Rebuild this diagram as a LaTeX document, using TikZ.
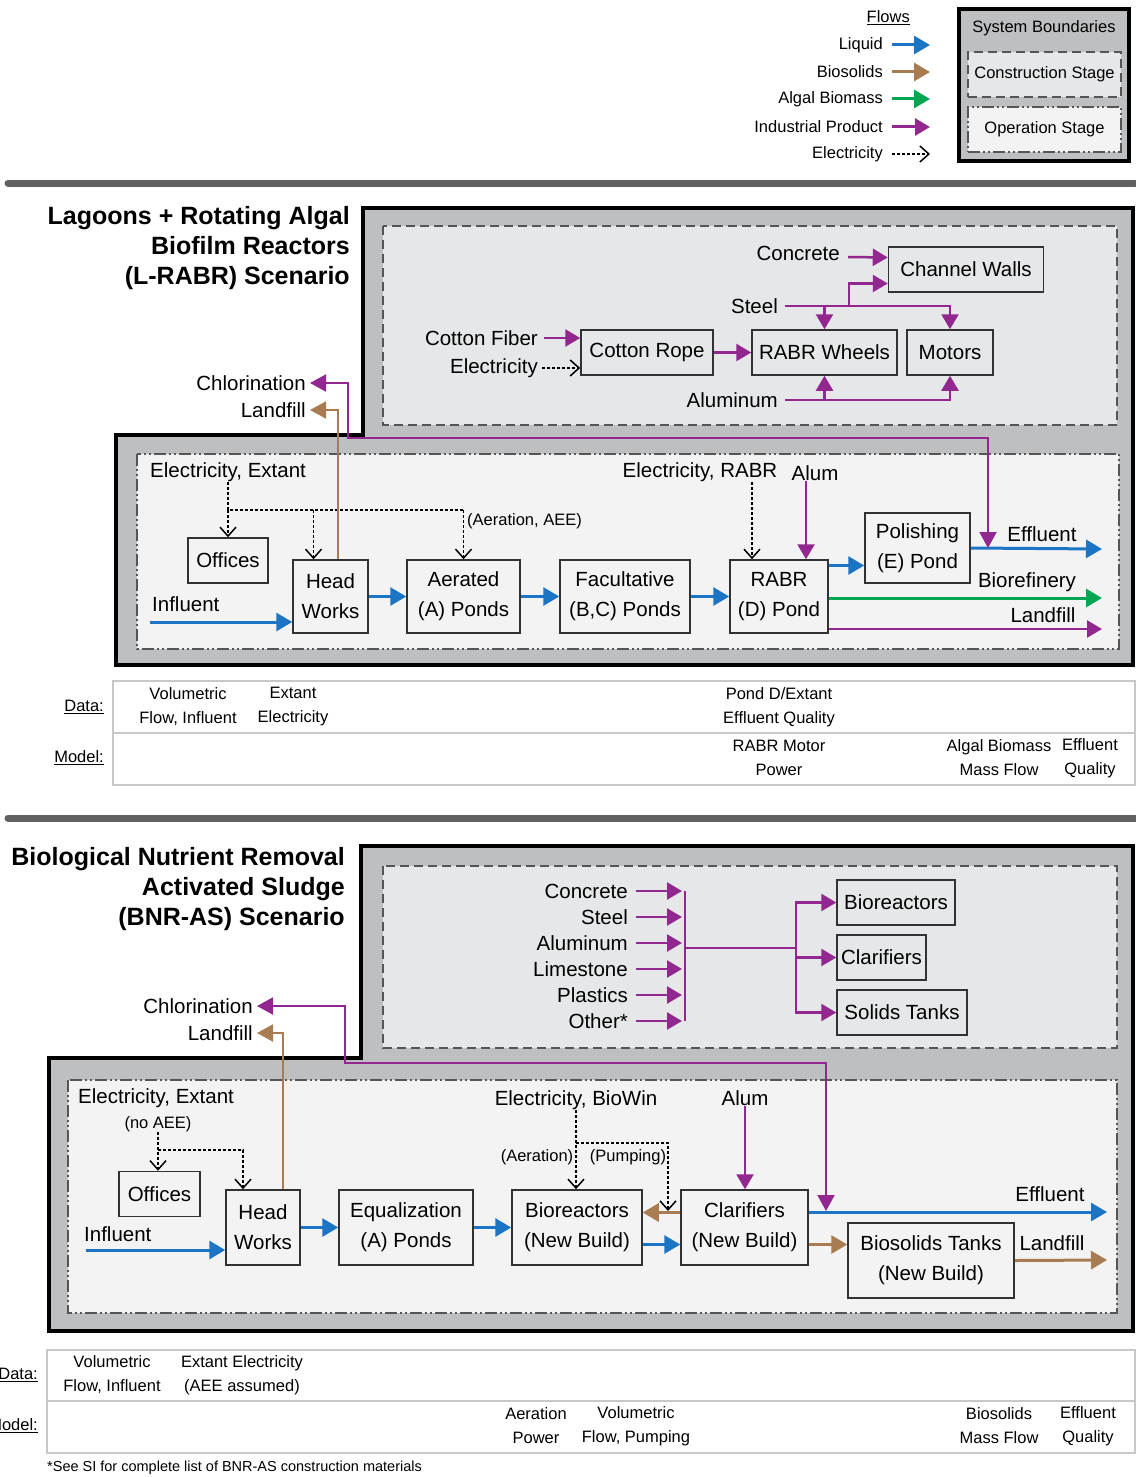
\documentclass[tikz,border=0pt]{standalone}
\usepackage{fontspec}
\setmainfont{Liberation Sans}
\usetikzlibrary{arrows.meta}
\definecolor{liquid}{RGB}{28,117,196}
\definecolor{biosol}{RGB}{168,124,80}
\definecolor{algal}{RGB}{0,166,81}
\definecolor{indprod}{RGB}{146,39,143}
\definecolor{bndfill}{RGB}{190,191,193}
\definecolor{confill}{RGB}{230,231,232}
\definecolor{opfill}{RGB}{243,243,243}
\definecolor{bnddash}{RGB}{85,85,85}
\definecolor{boxline}{RGB}{50,50,50}
\definecolor{tblline}{RGB}{200,200,200}
\newcommand\mainfs{\fontsize{20.5}{30}\selectfont}
\newcommand\smallfs{\fontsize{16.5}{24}\selectfont}
\newcommand\notefs{\fontsize{14.5}{18}\selectfont}
\newcommand\titlefs{\fontsize{25}{30}\bfseries\selectfont}
\tikzset{
  txt/.style={inner sep=0pt,font=\mainfs,align=center},
  smalltxt/.style={inner sep=0pt,font=\smallfs,align=center},
  scentitle/.style={inner sep=0pt,font=\titlefs,align=right,anchor=east},
  procbox/.style={draw=boxline,line width=1.5pt,minimum height=45pt,inner sep=2pt,align=center,font=\mainfs},
  liq/.style={draw=liquid,line width=3pt,-{Triangle[length=16pt,width=18pt]}},
  bios/.style={draw=biosol,line width=3pt,-{Triangle[length=16pt,width=18pt]}},
  alg/.style={draw=algal,line width=3pt,-{Triangle[length=16pt,width=18pt]}},
  ind/.style={draw=indprod,line width=2.5pt,-{Triangle[length=15pt,width=17pt]}},
  indl/.style={draw=indprod,line width=2.5pt},
  chlor/.style={draw=indprod,line width=2pt,{Triangle[length=16pt,width=17pt]}-{Triangle[length=16pt,width=17pt]}},
  biosl/.style={draw=biosol,line width=2pt,-{Triangle[length=16pt,width=17pt]}},
  elec/.style={draw=black,line width=1.5pt,dash pattern=on 3pt off 2pt,-{Straight Barb[length=9pt,width=16pt]}},
  scen/.style={draw=black,line width=4pt,fill=bndfill},
  constage/.style={draw=bnddash,line width=2pt,fill=confill,dash pattern=on 9pt off 5pt},
  opstage/.style={draw=bnddash,line width=2pt,fill=opfill,dash pattern=on 12pt off 3pt on 2pt off 3pt on 2pt off 3pt},
  tbl/.style={draw=tblline,line width=2.5pt},
  divider/.style={draw=black!62,line width=7pt,line cap=round}
}
\begin{document}
\begin{tikzpicture}[x=1pt,y=-1pt]
\useasboundingbox (0,0) rectangle (1135,1477);

\node[smalltxt,anchor=east] (lgflows) at (910,18) {\underline{Flows}};
\node[smalltxt,anchor=east] (lgliq) at (883,45) {Liquid};
\node[smalltxt,anchor=east] (lgbio) at (883,72) {Biosolids};
\node[smalltxt,anchor=east] (lgalg) at (883,99) {Algal Biomass};
\node[smalltxt,anchor=east] (lgind) at (883,127) {Industrial Product};
\node[smalltxt,anchor=east] (lgele) at (883,154) {Electricity};
\draw[liq] ([xshift=9pt]lgliq.east) -- +(38,0);
\draw[bios] ([xshift=9pt]lgbio.east) -- +(38,0);
\draw[alg] ([xshift=9pt]lgalg.east) -- +(38,0);
\draw[ind,line width=3pt] ([xshift=9pt]lgind.east) -- +(38,0);
\draw[elec] ([xshift=9pt]lgele.east) -- +(38,0);
\draw[scen] (959,9) rectangle (1129,161);
\node[smalltxt] (lgsys) at (1044,28) {System Boundaries};
\node[constage,smalltxt,minimum width=153pt,minimum height=45pt] (lgcon) at (1044.5,74.5) {Construction Stage};
\node[opstage,smalltxt,minimum width=153pt,minimum height=45pt] (lgop) at (1044.5,129.5) {Operation Stage};

\draw[divider] (8,183) -- (1135,183);

\node[scentitle] (lrtitle) at (350,248) {Lagoons + Rotating Algal\\Biofilm Reactors\\(L-RABR) Scenario};
\draw[scen] (363,208) -- (1133,208) -- (1133,665) -- (116,665) -- (116,435) -- (363,435) -- cycle;
\draw[constage] (383,226) rectangle (1117,425);
\draw[opstage] (137,454) rectangle (1119,649);

\node[procbox,minimum width=155pt] (chwall) at (966,269.5) {Channel Walls};
\node[procbox,minimum width=132pt] (rope) at (647,352.5) {Cotton Rope};
\node[procbox,minimum width=145pt] (wheel) at (824.5,352.5) {RABR Wheels};
\node[procbox,minimum width=86pt] (motor) at (950,352.5) {Motors};
\node[txt,anchor=east] (lcon) at (840,253) {Concrete};
\node[txt,anchor=east] (lsteel) at (778,306) {Steel};
\node[txt,anchor=east] (lfiber) at (538,338) {Cotton Fiber};
\node[txt,anchor=east] (lelec) at (538,368) {Electricity};
\node[txt,anchor=east] (lalum) at (778,400) {Aluminum};
\coordinate (stsplit) at (849,306);
\draw[ind] (lcon.east) ++(8,4) -- ([yshift=12pt]chwall.west);
\draw[ind] ([xshift=7pt]lsteel.east) -| (motor.north);
\draw[ind] (wheel.north |- lsteel.east) -- (wheel.north);
\draw[ind] (stsplit) |- ([yshift=-14pt]chwall.west);
\draw[ind] ([xshift=7pt]lalum.east) -| (motor.south);
\draw[ind] (wheel.south |- lalum.east) -- (wheel.south);
\draw[ind] ([xshift=6pt]lfiber.east) -- (rope.west |- lfiber.east);
\draw[elec] ([xshift=4pt]lelec.east) -- (rope.west |- lelec.east);
\draw[ind] (rope) -- (wheel);

\node[procbox,minimum width=80pt] (loff) at (228,560.5) {Offices};
\node[procbox,minimum width=75pt,minimum height=73pt] (lhead) at (330.5,596.5) {Head\\Works};
\node[procbox,minimum width=113pt,minimum height=73pt] (laer) at (463.5,596.5) {Aerated\\(A) Ponds};
\node[procbox,minimum width=130pt,minimum height=73pt] (lfac) at (625,596.5) {Facultative\\(B,C) Ponds};
\node[procbox,minimum width=98pt,minimum height=73pt] (lrabr) at (779,596.5) {RABR\\(D) Pond};
\node[procbox,minimum width=105pt,minimum height=70pt] (lpol) at (917.5,548) {Polishing\\(E) Pond};
\node[txt,anchor=west] (lelext) at (150,472) {Electricity, Extant};
\node[txt] (lelrabr) at (700,472) {Electricity, RABR};
\node[txt] (lalumop) at (815,473) {Alum};
\node[txt,anchor=west] (linf) at (152,604) {Influent};
\node[txt,anchor=east] (lchl) at (306,383) {Chlorination};
\node[txt,anchor=east] (llandf) at (306,410) {Landfill};
\node[txt] (leff) at (1042,534) {Effluent};
\node[txt] (lbioref) at (1027,582) {Biorefinery};
\node[txt] (llandf2) at (1043,615) {Landfill};
\node[smalltxt,anchor=west] (laeraee) at (467,521) {(Aeration, AEE)};
\coordinate (lej) at (228,510);
\draw[elec,-] (lej |- lelext.south) -- (lej) -- (laer.north |- lej);
\draw[elec] (lej) -- (loff.north);
\draw[elec] ([xshift=-17pt]lhead.north |- lej) -- ([xshift=-17pt]lhead.north);
\draw[elec] (laer.north |- lej) -- (laer.north);
\draw[elec] ([xshift=-27pt]lrabr.north |- lelrabr.south) -- ([xshift=-27pt]lrabr.north);
\draw[ind] ([xshift=27pt]lrabr.north |- lalumop.south) -- ([xshift=27pt]lrabr.north);
\coordinate (linfs) at (150,622);
\coordinate (leffend) at (1102,549);
\coordinate (lbrend) at (1102,598);
\coordinate (llfend) at (1102,629);
\draw[liq] (linfs) -- (lhead.west |- linfs);
\draw[liq] (lhead) -- (laer);
\draw[liq] (laer) -- (lfac);
\draw[liq] (lfac) -- (lrabr);
\draw[liq] ([yshift=31pt]lrabr.east) -- ([yshift=31pt]lrabr.east -| lpol.west);
\draw[liq] (lpol.east) -- (leffend);
\draw[alg] (lrabr.east |- lbrend) -- (lbrend);
\draw[ind] (lrabr.east |- llfend) -- (llfend);
\draw[biosl] ([xshift=7pt]lhead.north) |- ([xshift=4pt]llandf.east);
\coordinate (lchlk) at (348,438);
\coordinate (lchlin) at (988,548);
\draw[chlor] ([xshift=4pt]lchl.east) -| (lchlk) -| (lchlin);

\draw[tbl,fill=white] (113,681) rectangle (1135,785);
\draw[tbl] (113,733) -- (1135,733);
\node[smalltxt,anchor=east] (ldata) at (104,707) {\underline{Data:}};
\node[smalltxt,anchor=east] (lmodel) at (104,758) {\underline{Model:}};
\node[smalltxt] (ld1) at (188,707) {Volumetric\\Flow, Influent};
\node[smalltxt] (ld2) at (293,707) {Extant\\Electricity};
\node[smalltxt] (ld3) at (779,707) {Pond D/Extant\\Effluent Quality};
\node[smalltxt] (lm1) at (779,758) {RABR Motor\\Power};
\node[smalltxt] (lm2) at (999,758) {Algal Biomass\\Mass Flow};
\node[smalltxt] (lm3) at (1090,758) {Effluent\\Quality};

\draw[divider] (8,818) -- (1135,818);

\node[scentitle] (bntitle) at (345,889) {Biological Nutrient Removal\\Activated Sludge\\(BNR-AS) Scenario};
\draw[scen] (361,846) -- (1133,846) -- (1133,1331) -- (49,1331) -- (49,1058) -- (361,1058) -- cycle;
\draw[constage] (383,866) rectangle (1117,1048);
\draw[opstage] (68,1080) rectangle (1117,1313);

\foreach \y/\m [count=\i] in {891/Concrete,917/Steel,943/Aluminum,969/Limestone,995/Plastics,1021/Other*}{
  \node[txt,anchor=east] (bmat\i) at (628,\y) {\m};
  \draw[ind] ([xshift=8pt]bmat\i.east) -- +(46,0);
}
\node[procbox,minimum width=118pt] (bbio) at (896,902.5) {Bioreactors};
\node[procbox,minimum width=89pt] (bclar) at (881.5,957.5) {Clarifiers};
\node[procbox,minimum width=130pt] (bsol) at (902,1012.5) {Solids Tanks};
\coordinate (bjn) at (685,948);
\coordinate (bspl) at (796,948);
\draw[indl] (bmat1 -| bjn) -- (bmat6 -| bjn);
\draw[indl] (bjn) -- (bspl);
\draw[ind] (bspl) |- (bbio.west);
\draw[ind] (bspl) -- (bspl |- bclar.west) -- (bclar.west);
\draw[ind] (bspl) |- (bsol.west);

\node[txt,anchor=west] (belext) at (78,1098) {Electricity, Extant};
\node[smalltxt] (bnoaee) at (158,1124) {(no AEE)};
\node[procbox,minimum width=81pt] (boff) at (159.5,1194) {Offices};
\node[procbox,minimum width=74pt,minimum height=75pt] (bhead) at (263,1227.5) {Head\\Works};
\node[procbox,minimum width=134pt,minimum height=75pt] (beq) at (406,1227.5) {Equalization\\(A) Ponds};
\node[procbox,minimum width=130pt,minimum height=75pt] (bbior) at (577,1227.5) {Bioreactors\\(New Build)};
\node[procbox,minimum width=127pt,minimum height=75pt] (bclr) at (744.5,1227.5) {Clarifiers\\(New Build)};
\node[procbox,minimum width=166pt,minimum height=75pt] (bbst) at (931,1260.5) {Biosolids Tanks\\(New Build)};
\node[txt,anchor=west] (binf) at (84,1234) {Influent};
\node[txt] (bel2) at (576,1100) {Electricity, BioWin};
\node[txt] (balum) at (745,1098) {Alum};
\node[txt] (beff) at (1050,1194) {Effluent};
\node[txt] (blandf2) at (1052,1243) {Landfill};
\node[smalltxt] (baer) at (537,1157) {(Aeration)};
\node[smalltxt] (bpump) at (628,1157) {(Pumping)};
\node[txt,anchor=east] (bchl) at (253,1006) {Chlorination};
\node[txt,anchor=east] (blandf) at (253,1033) {Landfill};
\coordinate (bej) at (158,1150);
\coordinate (bpj) at (576,1143);
\coordinate (bpumpin) at (668,1211);
\draw[elec] (bnoaee.south) -- (bnoaee.south |- boff.north);
\draw[elec] (bej) -| ([xshift=-20pt]bhead.north);
\draw[elec] (bel2.south) -- (bel2.south |- bbior.north);
\draw[elec] (bpj) -| (bpumpin);
\draw[ind] (balum.south) -- (balum.south |- bclr.north);
\coordinate (binfs) at (86,1250);
\coordinate (beffend) at (1107,1212);
\coordinate (blfend) at (1107,1260);
\draw[liq] (binfs) -- (bhead.west |- binfs);
\draw[liq] (bhead) -- (beq);
\draw[liq] (beq) -- (bbior);
\draw[liq] ([yshift=-17pt]bbior.east) -- ([yshift=-17pt]bbior.east -| bclr.west);
\draw[bios] ([yshift=15pt]bclr.west) -- ([yshift=15pt]bclr.west -| bbior.east);
\draw[bios] ([yshift=-17pt]bclr.east) -- ([yshift=-17pt]bclr.east -| bbst.west);
\draw[liq] (bclr.east |- beffend) -- (beffend);
\draw[bios] (bbst.east) -- (blfend);
\draw[biosl] ([xshift=20pt]bhead.north) |- ([xshift=4pt]blandf.east);
\coordinate (bchlk) at (345,1063);
\coordinate (bchlin) at (826,1211);
\draw[chlor] ([xshift=4pt]bchl.east) -| (bchlk) -| (bchlin);

\draw[tbl,fill=white] (47,1350) rectangle (1135,1453);
\draw[tbl] (47,1401) -- (1135,1401);
\node[smalltxt,anchor=east] (bdata) at (38,1375) {\underline{Data:}};
\node[smalltxt,anchor=east] (bmodel) at (38,1426) {\underline{Model:}};
\node[smalltxt] (bd1) at (112,1375) {Volumetric\\Flow, Influent};
\node[smalltxt] (bd2) at (242,1375) {Extant Electricity\\(AEE assumed)};
\node[smalltxt] (bm1) at (536,1426) {Aeration\\Power};
\node[smalltxt] (bm2) at (636,1426) {Volumetric\\Flow, Pumping};
\node[smalltxt] (bm3) at (999,1426) {Biosolids\\Mass Flow};
\node[smalltxt] (bm4) at (1088,1426) {Effluent\\Quality};
\node[inner sep=0pt,font=\notefs,anchor=west] (bnote) at (47,1468) {*See SI for complete list of BNR-AS construction materials};
\end{tikzpicture}
\end{document}
